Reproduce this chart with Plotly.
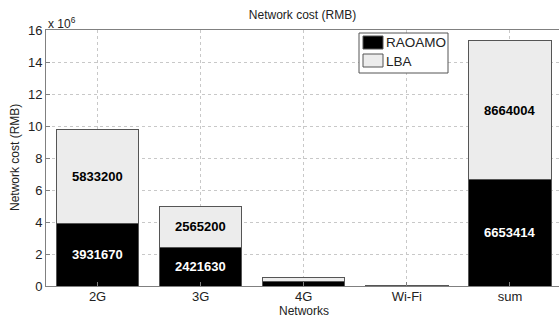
import plotly.graph_objects as go

categories = ["2G", "3G", "4G", "Wi-Fi", "sum"]
raoamo = [3931670, 2421630, 290000, 10114, 6653414]
lba = [5833200, 2565200, 255604, 10000, 8664004]
y_ticks = [0, 2, 4, 6, 8, 10, 12, 14, 16]
scale = 1e6
series_names = ["RAOAMO", "LBA"]
series_colors = ["#000000", "#ececec"]
label_colors = ["white", "black"]

x_pos = list(range(1, len(categories) + 1))

# plot-area geometry (pixels) used to place paper-referenced decorations
W, H = 559, 318
L, R, T, B = 46, 0, 30, 32
PW, PH = W - L - R, H - T - B


def px(x):
    return (x - L) / PW


def py(y):
    return (H - B - y) / PH


fig = go.Figure()
for name, vals, col in zip(series_names, [raoamo, lba], series_colors):
    fig.add_trace(go.Bar(
        x=x_pos, y=[v / scale for v in vals], name=name,
        marker=dict(color=col, line=dict(color="#555555", width=1)),
        width=0.8, showlegend=False, hoverinfo="x+y",
    ))

# value labels at the middle of each large segment
base = [0.0] * len(categories)
for vals, tcol in zip([raoamo, lba], label_colors):
    for i, v in enumerate(vals):
        if v > 1e6:
            fig.add_annotation(
                x=x_pos[i], y=base[i] + v / scale / 2, xref="x", yref="y",
                text=f"<b>{v}</b>", showarrow=False,
                font=dict(size=13, color=tcol, family="Liberation Sans"),
            )
        base[i] += v / scale

fig.update_layout(
    width=W, height=H,
    margin=dict(l=L, r=R, t=T, b=B),
    barmode="stack",
    plot_bgcolor="white", paper_bgcolor="white",
    font=dict(family="Liberation Sans", size=12, color="#222222"),
    title=dict(text="Network cost (RMB)", x=0.5, xref="paper", xanchor="center",
               y=1 - 15 / H, yanchor="middle", font=dict(size=12)),
    showlegend=False,
)
fig.update_xaxes(
    range=[0.5, 5.476], tickmode="array", tickvals=x_pos, ticktext=categories,
    showline=True, linecolor="#808080", linewidth=1, mirror=True,
    ticks="inside", ticklen=4, tickcolor="#808080",
    showgrid=True, gridcolor="#c8c8c8", griddash="dot", gridwidth=1,
    tickfont=dict(size=13), ticklabelstandoff=-2,
    zeroline=False,
)
fig.update_yaxes(
    range=[0, 16], tickmode="array", tickvals=y_ticks,
    showline=True, linecolor="#808080", linewidth=1, mirror=False,
    ticks="inside", ticklen=4, tickcolor="#808080",
    showgrid=True, gridcolor="#c8c8c8", griddash="dot", gridwidth=1,
    tickfont=dict(size=13),
    zeroline=False,
)

# axis titles
fig.add_annotation(text="Networks", xref="paper", yref="paper", x=px(304), y=py(310.5),
                   xanchor="center", yanchor="middle", showarrow=False, font=dict(size=12))
fig.add_annotation(text="Network cost (RMB)", xref="paper", yref="paper", x=px(15), y=0.5,
                   xanchor="center", yanchor="middle", textangle=-90, showarrow=False,
                   font=dict(size=12))
# exponent
fig.add_annotation(
    text="x 10<sup>6</sup>", xref="paper", yref="paper", x=0, y=1,
    xanchor="left", yanchor="bottom", showarrow=False, font=dict(size=12),
    yshift=-3,
)

# legend box (MATLAB style)
fig.add_shape(type="rect", xref="paper", yref="paper", x0=px(359), x1=px(448),
              y0=py(73), y1=py(33), fillcolor="white", line=dict(color="#555555", width=1),
              layer="above")
sw_tops = [36, 54]
txt_y = [42.5, 61]
for name, col, top, ty in zip(series_names, series_colors, sw_tops, txt_y):
    fig.add_shape(type="rect", xref="paper", yref="paper", x0=px(363), x1=px(383),
                  y0=py(top + 13), y1=py(top), fillcolor=col,
                  line=dict(color="#555555", width=1), layer="above")
    fig.add_annotation(text=name, xref="paper", yref="paper", x=px(384), y=py(ty),
                       xanchor="left", yanchor="middle", showarrow=False,
                       font=dict(size=13.5, color="#222222"))

fig.write_html(
    "out.html",
    config={"displayModeBar": False},
    post_script="document.body.style.margin='0';document.body.style.padding='0';"
                "document.body.style.overflow='hidden';",
)
